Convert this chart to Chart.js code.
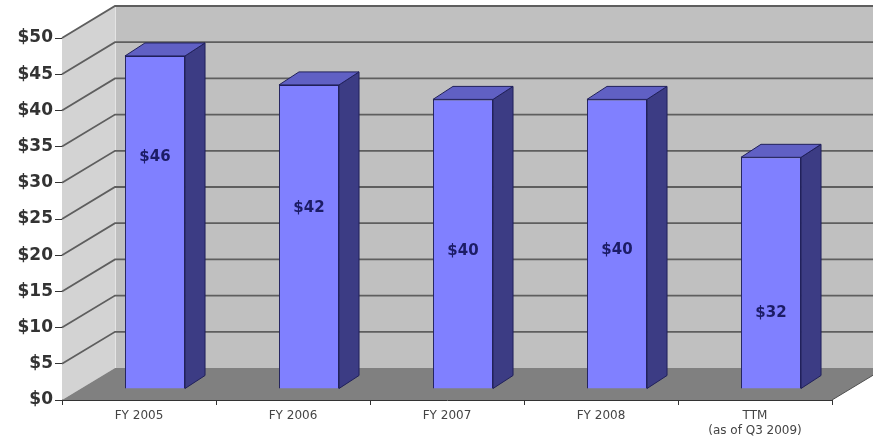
<!DOCTYPE html>
<html>
<head>
<meta charset="utf-8">
<script src="https://cdn.jsdelivr.net/npm/chart.js@4.4.0/dist/chart.umd.min.js"></script>
<style>
  html, body { margin: 0; padding: 0; background: #ffffff; }
  #wrap { width: 873px; height: 445px; }
</style>
</head>
<body>
<div id="wrap"><canvas id="grafico" width="873" height="445"></canvas></div>
<script>
// datos
const categorias = ['FY 2005', 'FY 2006', 'FY 2007', 'FY 2008', ['TTM', '(as of Q3 2009)']];
const valores = [46, 42, 40, 40, 32];
const etiquetas = ['$46', '$42', '$40', '$40', '$32'];

// caja 3D: paredes, suelo y caras de las barras
const caja3d = {
  id: 'caja3d',
  beforeDatasetsDraw(chart, args, opts) {
    const { ctx, chartArea: a, scales: { y } } = chart;
    const dx = opts.dx, dy = opts.dy, W = chart.width;
    ctx.save();
    // pared del fondo
    ctx.fillStyle = '#c0c0c0';
    ctx.fillRect(a.left + dx, a.top + dy, W - a.left - dx, a.bottom - a.top);
    // pared izquierda
    ctx.fillStyle = '#d3d3d3';
    ctx.beginPath();
    ctx.moveTo(a.left, a.top);
    ctx.lineTo(a.left + dx, a.top + dy);
    ctx.lineTo(a.left + dx, a.bottom + dy);
    ctx.lineTo(a.left, a.bottom);
    ctx.closePath();
    ctx.fill();
    // suelo
    ctx.fillStyle = '#808080';
    ctx.beginPath();
    ctx.moveTo(a.left, a.bottom);
    ctx.lineTo(a.right, a.bottom);
    ctx.lineTo(a.right + dx, a.bottom + dy);
    ctx.lineTo(a.left + dx, a.bottom + dy);
    ctx.closePath();
    ctx.fill();
    // borde de la pared del fondo
    ctx.strokeStyle = '#e4e4e4';
    ctx.lineWidth = 1;
    ctx.beginPath();
    ctx.moveTo(a.left + dx + 0.5, a.top + dy);
    ctx.lineTo(a.left + dx + 0.5, a.bottom + dy);
    ctx.stroke();
    // lineas de la rejilla
    ctx.strokeStyle = '#5e5e5e';
    ctx.lineWidth = 1.8;
    y.ticks.forEach(t => {
      if (t.value === 0) return;
      const py = y.getPixelForValue(t.value);
      ctx.beginPath();
      ctx.moveTo(a.left, py);
      ctx.lineTo(a.left + dx, py + dy);
      ctx.lineTo(W, py + dy);
      ctx.stroke();
    });
    // borde derecho del suelo
    ctx.strokeStyle = '#505050';
    ctx.lineWidth = 1;
    ctx.beginPath();
    ctx.moveTo(a.right, a.bottom);
    ctx.lineTo(a.right + dx, a.bottom + dy);
    ctx.stroke();
    ctx.restore();

    // desplazar las barras hacia el fondo
    ctx.save();
    ctx.translate(opts.barShiftX, opts.barShiftY);
  },
  afterDatasetsDraw(chart, args, opts) {
    const { ctx } = chart;
    const bdx = opts.barDx, bdy = opts.barDy;
    const meta = chart.getDatasetMeta(0);
    ctx.lineWidth = 1;
    ctx.strokeStyle = '#20205a';
    ctx.lineJoin = 'round';
    meta.data.forEach(bar => {
      const { x, y, base, width } = bar.getProps(['x', 'y', 'base', 'width'], true);
      const l = x - width / 2, r = x + width / 2;
      // cara lateral
      ctx.fillStyle = '#3c3c84';
      ctx.beginPath();
      ctx.moveTo(r, y);
      ctx.lineTo(r + bdx, y + bdy);
      ctx.lineTo(r + bdx, base + bdy);
      ctx.lineTo(r, base);
      ctx.closePath();
      ctx.fill();
      ctx.stroke();
      // cara superior
      ctx.fillStyle = '#6060c4';
      ctx.beginPath();
      ctx.moveTo(l, y);
      ctx.lineTo(l + bdx, y + bdy);
      ctx.lineTo(r + bdx, y + bdy);
      ctx.lineTo(r, y);
      ctx.closePath();
      ctx.fill();
      ctx.stroke();
    });
    // etiquetas de valor
    const ys = chart.scales.y;
    ctx.fillStyle = '#1c1c66';
    ctx.font = 'bold 15px "DejaVu Sans", Arial, sans-serif';
    ctx.textAlign = 'center';
    ctx.textBaseline = 'middle';
    meta.data.forEach((bar, i) => {
      const py = ys.getPixelForValue(opts.labelLevels[i]);
      ctx.fillText(etiquetas[i], bar.x, py);
    });
    ctx.restore();
  }
};

const ctx = document.getElementById('grafico').getContext('2d');
const grafico = new Chart(ctx, {
  type: 'bar',
  data: {
    labels: categorias,
    datasets: [{
      data: valores,
      backgroundColor: '#8080ff',
      borderColor: '#20205a',
      borderWidth: 1,
      categoryPercentage: 1,
      barPercentage: 0.39
    }]
  },
  options: {
    responsive: false,
    animation: false,
    layout: { padding: { top: 38, right: 41, left: 0, bottom: 0 } },
    plugins: {
      legend: { display: false },
      tooltip: { enabled: false },
      caja3d: {
        dx: 53, dy: -32,
        barShiftX: 16, barShiftY: -11,
        barDx: 20, barDy: -13,
        labelLevels: [32, 25, 19, 19.2, 10.5]
      }
    },
    scales: {
      y: {
        min: 0,
        max: 50,
        afterFit(s) { s.width = 62; },
        ticks: {
          stepSize: 5,
          padding: 2,
          color: '#333333',
          font: { family: '"DejaVu Sans", Arial, sans-serif', size: 17, weight: 'bold' },
          callback: v => '$' + v
        },
        grid: { drawOnChartArea: false, tickLength: 7, color: '#333333', lineWidth: 1 },
        border: { display: true, color: '#333333', width: 1 }
      },
      x: {
        afterFit(s) { s.height = 45; },
        ticks: {
          padding: 4,
          color: '#444444',
          font: { family: '"DejaVu Sans", Arial, sans-serif', size: 12 }
        },
        grid: { offset: true, drawOnChartArea: false, tickLength: 5, color: '#333333', lineWidth: 1 },
        border: { display: true, color: '#333333', width: 1 }
      }
    }
  },
  plugins: [caja3d]
});
</script>
</body>
</html>
